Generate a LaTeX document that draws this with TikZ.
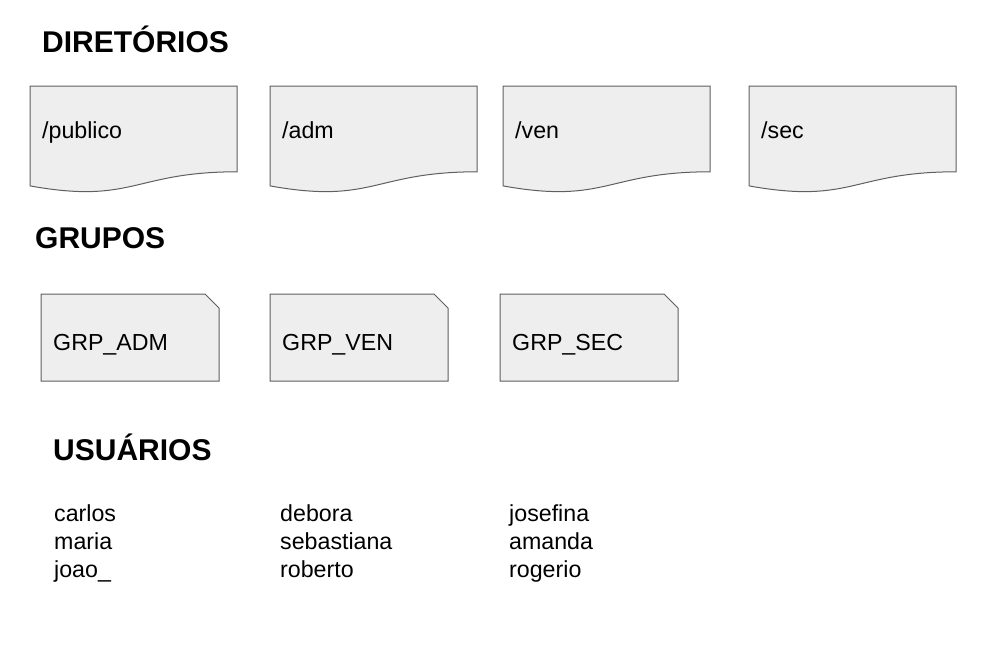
\documentclass[tikz,border=0pt]{standalone}
\usepackage{fontspec}
\setmainfont{Liberation Sans}
\definecolor{boxfill}{HTML}{EEEEEE}
\definecolor{boxline}{HTML}{5F5F5F}
\begin{document}
\begin{tikzpicture}[x=1pt, y=-1pt,
  docbox/.style={draw=boxline, fill=boxfill, line width=1pt},
  title/.style={anchor=base west, inner sep=0, font=\fontsize{30}{36}\selectfont\bfseries},
  word/.style={anchor=base west, inner sep=0, font=\fontsize{23.2}{28}\selectfont}]
  \useasboundingbox (0, 0) rectangle (988, 656);

  % diretorios
  \node[title] (hdir) at (42, 52.5) {DIRETÓRIOS};
  \draw[docbox] (30, 86) -- (237, 86) -- (237, 171.8) .. controls (133.5, 171.8) and (133.5, 204.5) .. (30, 185.9) -- cycle;
  \draw[docbox] (270, 86) -- (477, 86) -- (477, 171.8) .. controls (373.5, 171.8) and (373.5, 204.5) .. (270, 185.9) -- cycle;
  \draw[docbox] (503, 86) -- (710, 86) -- (710, 171.8) .. controls (606.5, 171.8) and (606.5, 204.5) .. (503, 185.9) -- cycle;
  \draw[docbox] (749, 86) -- (956, 86) -- (956, 171.8) .. controls (852.5, 171.8) and (852.5, 204.5) .. (749, 185.9) -- cycle;
  \node[word] (publico) at (42, 138) {/publico};
  \node[word] (adm) at (282, 138) {/adm};
  \node[word] (ven) at (515, 138) {/ven};
  \node[word] (sec) at (761, 138) {/sec};

  % grupos
  \node[title] (hgrp) at (35, 248) {GRUPOS};
  \draw[docbox] (41, 294) -- (205, 294) -- (219, 308) -- (219, 381) -- (41, 381) -- cycle;
  \draw[docbox] (270, 294) -- (434, 294) -- (448, 308) -- (448, 381) -- (270, 381) -- cycle;
  \draw[docbox] (500, 294) -- (664, 294) -- (678, 308) -- (678, 381) -- (500, 381) -- cycle;
  \node[word] (gadm) at (53, 350) {GRP\_ADM};
  \node[word] (gven) at (282, 350) {GRP\_VEN};
  \node[word] (gsec) at (512, 350) {GRP\_SEC};

  % usuarios
  \node[title] (husr) at (53, 460.5) {USUÁRIOS};
  \node[word] (carlos) at (54, 521.5) {carlos};
  \node[word] (maria) at (54, 549.5) {maria};
  \node[word] (joao) at (54, 577) {joao\_};
  \node[word] (debora) at (280, 521.5) {debora};
  \node[word] (sebastiana) at (280, 549.5) {sebastiana};
  \node[word] (roberto) at (280, 577) {roberto};
  \node[word] (josefina) at (509, 521.5) {josefina};
  \node[word] (amanda) at (509, 549.5) {amanda};
  \node[word] (rogerio) at (509, 577) {rogerio};
\end{tikzpicture}
\end{document}
